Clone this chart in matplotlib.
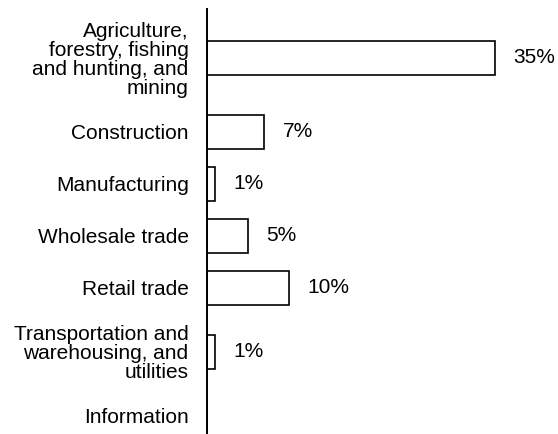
import matplotlib.pyplot as plt

plt.rcParams['font.family'] = ['Liberation Sans', 'DejaVu Sans']

# industry shares
industries = ['Agriculture,\nforestry, fishing\nand hunting, and\nmining',
              'Construction',
              'Manufacturing',
              'Wholesale trade',
              'Retail trade',
              'Transportation and\nwarehousing, and\nutilities',
              'Information']
shares = [35, 7, 1, 5, 10, 1, 0]
share_labels = ['35%', '7%', '1%', '5%', '10%', '1%', '']

# row spacing: one slot, or more when the labels are tall
lines = [s.count('\n') + 1 for s in industries]
pos = [0.0]
for a, b in zip(lines[:-1], lines[1:]):
    pos.append(pos[-1] + max(1.0, (10 * (a + b) + 24) / 52))

W, H = 558, 434
fig = plt.figure(figsize=(W / 100, H / 100), dpi=100)
left = 206.7 / W
ax = fig.add_axes([left, 0, 1 - left, (H - 9) / H])

ax.barh(pos, shares, height=0.66, color='white', edgecolor='black', linewidth=1.2)

for p, v, lab in zip(pos, shares, share_labels):
    if lab:
        ax.annotate(lab, (v, p), xytext=(13, 0), textcoords='offset points',
                    va='center', ha='left', fontsize=15)

ax.set_xlim(0, (W - 206.7) / 8.237)
ax.set_ylim(pos[-1] + 0.35, -0.94)
ax.set_yticks(pos)
ax.set_yticklabels(industries, fontsize=15, ha='right', multialignment='right',
                   linespacing=1.0)
ax.tick_params(axis='y', length=0, pad=13)
ax.set_xticks([])
for side in ['top', 'right', 'bottom']:
    ax.spines[side].set_visible(False)
ax.spines['left'].set_linewidth(1.4)

fig.savefig('out.png', dpi=100)
